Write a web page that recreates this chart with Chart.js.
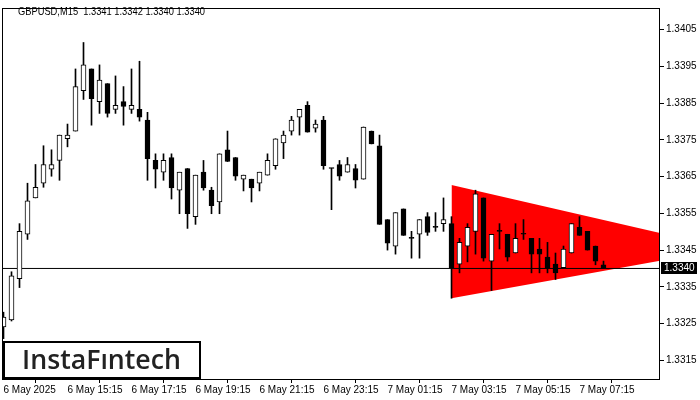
<!DOCTYPE html>
<html>
<head>
<meta charset="utf-8">
<script src="https://cdn.jsdelivr.net/npm/chart.js@4.4.1/dist/chart.umd.min.js"></script>
<style>
  html, body { margin: 0; padding: 0; background: #fff; }
  canvas { display: block; }
</style>
</head>
<body>
<canvas id="chart" width="700" height="400"></canvas>
<script>
const symbolTitle = "GBPUSD,M15  1.3341 1.3342 1.3340 1.3340";
const logoText = "InstaFıntech";

// GBPUSD M15 candles, bar 0 = 6 May 13:15
const open = [
  1.33241, 1.33260, 1.33372, 1.33493, 1.33592, 1.33632, 1.33670, 1.33694, 1.33753, 1.33774,
  1.33884, 1.33943, 1.33854, 1.33903, 1.33833, 1.33854, 1.33833, 1.33833, 1.33804, 1.33694,
  1.33662, 1.33702, 1.33613, 1.33672, 1.33541, 1.33662, 1.33613, 1.33581, 1.33723, 1.33702,
  1.33643, 1.33643, 1.33632, 1.33654, 1.33680, 1.33742, 1.33774, 1.33812, 1.33844, 1.33782,
  1.33804, 1.33672, 1.33683, 1.33662, 1.33672, 1.33643, 1.33774, 1.33734, 1.33533, 1.33461,
  1.33562, 1.33482, 1.33493, 1.33541, 1.33512, 1.33522, 1.33522, 1.33412, 1.33461, 1.33501,
  1.33592, 1.33420, 1.33501, 1.33493, 1.33442, 1.33493, 1.33482, 1.33453, 1.33431, 1.33412,
  1.33402, 1.33442, 1.33512, 1.33501, 1.33461, 1.33410,
];
const high = [
  1.33281, 1.33391, 1.33522, 1.33632, 1.33683, 1.33734, 1.33723, 1.33763, 1.33793, 1.33943,
  1.34015, 1.33943, 1.33954, 1.33903, 1.33924, 1.33895, 1.33943, 1.33964, 1.33825, 1.33712,
  1.33712, 1.33712, 1.33662, 1.33672, 1.33654, 1.33694, 1.33621, 1.33712, 1.33774, 1.33702,
  1.33654, 1.33643, 1.33662, 1.33712, 1.33753, 1.33774, 1.33814, 1.33833, 1.33854, 1.33804,
  1.33814, 1.33673, 1.33694, 1.33702, 1.33683, 1.33785, 1.33774, 1.33763, 1.33533, 1.33552,
  1.33562, 1.33501, 1.33533, 1.33552, 1.33552, 1.33592, 1.33541, 1.33482, 1.33522, 1.33613,
  1.33592, 1.33493, 1.33522, 1.33493, 1.33522, 1.33533, 1.33482, 1.33482, 1.33471, 1.33442,
  1.33461, 1.33522, 1.33541, 1.33501, 1.33461, 1.33420,
];
const low = [
  1.33209, 1.33257, 1.33348, 1.33479, 1.33592, 1.33621, 1.33651, 1.33640, 1.33731, 1.33774,
  1.33860, 1.33790, 1.33822, 1.33812, 1.33822, 1.33790, 1.33822, 1.33801, 1.33640, 1.33619,
  1.33640, 1.33589, 1.33549, 1.33509, 1.33520, 1.33613, 1.33549, 1.33549, 1.33691, 1.33640,
  1.33611, 1.33581, 1.33611, 1.33654, 1.33670, 1.33699, 1.33763, 1.33763, 1.33771, 1.33771,
  1.33670, 1.33560, 1.33640, 1.33662, 1.33619, 1.33643, 1.33739, 1.33520, 1.33450, 1.33439,
  1.33490, 1.33428, 1.33428, 1.33490, 1.33501, 1.33501, 1.33319, 1.33388, 1.33418, 1.33439,
  1.33420, 1.33340, 1.33453, 1.33420, 1.33442, 1.33479, 1.33388, 1.33388, 1.33388, 1.33370,
  1.33402, 1.33442, 1.33490, 1.33450, 1.33410, 1.33400,
];
const close = [
  1.33268, 1.33380, 1.33501, 1.33584, 1.33621, 1.33683, 1.33683, 1.33763, 1.33763, 1.33895,
  1.33954, 1.33862, 1.33913, 1.33822, 1.33844, 1.33841, 1.33844, 1.33812, 1.33699, 1.33670,
  1.33694, 1.33619, 1.33662, 1.33549, 1.33654, 1.33619, 1.33571, 1.33712, 1.33691, 1.33651,
  1.33654, 1.33619, 1.33662, 1.33694, 1.33753, 1.33763, 1.33804, 1.33833, 1.33771, 1.33793,
  1.33680, 1.33672, 1.33651, 1.33683, 1.33640, 1.33785, 1.33739, 1.33520, 1.33469, 1.33552,
  1.33490, 1.33482, 1.33533, 1.33498, 1.33512, 1.33533, 1.33402, 1.33471, 1.33512, 1.33603,
  1.33428, 1.33493, 1.33501, 1.33431, 1.33482, 1.33493, 1.33439, 1.33439, 1.33402, 1.33388,
  1.33453, 1.33522, 1.33490, 1.33450, 1.33420, 1.33400,
];

const xTickBars = [0, 8, 16, 24, 32, 40, 48, 56, 64, 72];
const xTickLabels = [
  "6 May 2025", "6 May 15:15", "6 May 17:15", "6 May 19:15", "6 May 21:15",
  "6 May 23:15", "7 May 01:15", "7 May 03:15", "7 May 05:15", "7 May 07:15",
];
const yTicks = [1.3315, 1.3325, 1.3335, 1.3345, 1.3355, 1.3365, 1.3375, 1.3385, 1.3395, 1.3405];
const bidPrice = 1.3340;

// symmetrical triangle pattern (bar index, top price, bottom price)
const triangleBars = [56, 82.1];
const triangleTop = [1.33627, 1.33496];
const triangleBottom = [1.33319, 1.33421];

const xMin = -0.1875;
const xMax = 82.0625;
const yMin = 1.3309643;
const yMax = 1.341089;

const axisFont = { family: "Liberation Sans", size: 10 };
const bars = open.map((_, i) => i);

const decor = {
  id: "decor",
  afterDraw(chart) {
    const { ctx, chartArea: a, scales } = chart;
    ctx.save();

    // frame
    ctx.strokeStyle = "#000";
    ctx.lineWidth = 1;
    ctx.strokeRect(a.left + 0.5, a.top + 0.5, a.right - a.left - 1, a.bottom - a.top - 1);

    // symbol line, squeezed a bit to the width of the terminal font
    ctx.fillStyle = "#000";
    ctx.font = "11px 'Liberation Sans'";
    ctx.textBaseline = "alphabetic";
    ctx.textAlign = "left";
    const tw = ctx.measureText(symbolTitle).width;
    ctx.save();
    ctx.translate(18, 15);
    ctx.scale(187 / tw, 1);
    ctx.fillText(symbolTitle, 0, 0);
    ctx.restore();

    // bid label on price axis
    const by = scales.y.getPixelForValue(bidPrice);
    ctx.font = "10px 'Liberation Sans'";
    ctx.fillStyle = "#000";
    ctx.fillRect(a.right + 1, Math.round(by) - 6, 36, 12);
    ctx.fillStyle = "#fff";
    ctx.textBaseline = "middle";
    ctx.fillText(bidPrice.toFixed(4), a.right + 4, Math.round(by) + 0.5);

    // logo
    ctx.fillStyle = "#fff";
    ctx.fillRect(4, 342, 196, 36);
    ctx.strokeStyle = "#000";
    ctx.lineWidth = 2;
    ctx.strokeRect(4, 342, 196, 36);
    ctx.font = "600 28px 'Open Sans'";
    const w = ctx.measureText(logoText).width;
    const size = 28 * 159 / w;
    ctx.font = "600 " + size.toFixed(1) + "px 'Open Sans'";
    ctx.fillStyle = "#222";
    ctx.textAlign = "center";
    ctx.textBaseline = "alphabetic";
    ctx.fillText(logoText, 101.5, 369);
    ctx.restore();
  },
};

new Chart(document.getElementById("chart"), {
  type: "bar",
  data: {
    datasets: [
      {
        type: "bar",
        label: "body",
        data: bars.map((i) => ({ x: i, y: [open[i], close[i]] })),
        backgroundColor: bars.map((i) => (close[i] > open[i] ? "#ffffff" : "#000000")),
        borderColor: "#000",
        borderWidth: 1,
        borderSkipped: false,
        barThickness: 5,
        minBarLength: 1,
        grouped: false,
        order: 0,
      },
      {
        type: "bar",
        label: "wick",
        data: bars.map((i) => ({ x: i, y: [low[i], high[i]] })),
        backgroundColor: "#000",
        borderWidth: 0,
        barThickness: 1,
        grouped: false,
        order: 1,
      },
      {
        type: "line",
        label: "bid",
        data: [{ x: xMin, y: bidPrice }, { x: xMax, y: bidPrice }],
        borderColor: "#000",
        borderWidth: 1,
        pointRadius: 0,
        order: 2,
      },
      {
        type: "line",
        label: "triangle top",
        data: triangleBars.map((x, k) => ({ x, y: triangleTop[k] })),
        borderColor: "rgba(0,0,0,0)",
        borderWidth: 0,
        pointRadius: 0,
        fill: false,
        order: 3,
      },
      {
        type: "line",
        label: "triangle bottom",
        data: triangleBars.map((x, k) => ({ x, y: triangleBottom[k] })),
        borderColor: "rgba(0,0,0,0)",
        borderWidth: 0,
        pointRadius: 0,
        fill: "-1",
        backgroundColor: "#ff0000",
        order: 4,
      },
    ],
  },
  options: {
    responsive: false,
    animation: false,
    devicePixelRatio: 1,
    layout: { padding: { left: 2, top: 2, right: 0, bottom: 0 } },
    plugins: { legend: { display: false }, tooltip: { enabled: false } },
    scales: {
      x: {
        type: "linear",
        min: xMin,
        max: xMax,
        offset: false,
        afterBuildTicks: (s) => { s.ticks = xTickBars.map((v) => ({ value: v })); },
        afterFit: (s) => { s.height = 20; },
        grid: { display: true, drawOnChartArea: false, drawTicks: true, tickLength: 3, color: "#000" },
        border: { display: false },
        ticks: {
          callback: (v, idx) => xTickLabels[idx],
          align: "start",
          padding: 1,
          maxRotation: 0,
          autoSkip: false,
          color: "#000",
          font: axisFont,
        },
      },
      y: {
        type: "linear",
        position: "right",
        min: yMin,
        max: yMax,
        afterBuildTicks: (s) => { s.ticks = yTicks.map((v) => ({ value: v })); },
        afterFit: (s) => { s.width = 40; },
        grid: { display: true, drawOnChartArea: false, drawTicks: true, tickLength: 4, color: "#000" },
        border: { display: false },
        ticks: {
          callback: (v) => v.toFixed(4),
          padding: 2,
          color: "#000",
          font: axisFont,
        },
      },
    },
  },
  plugins: [decor],
});
</script>
</body>
</html>
